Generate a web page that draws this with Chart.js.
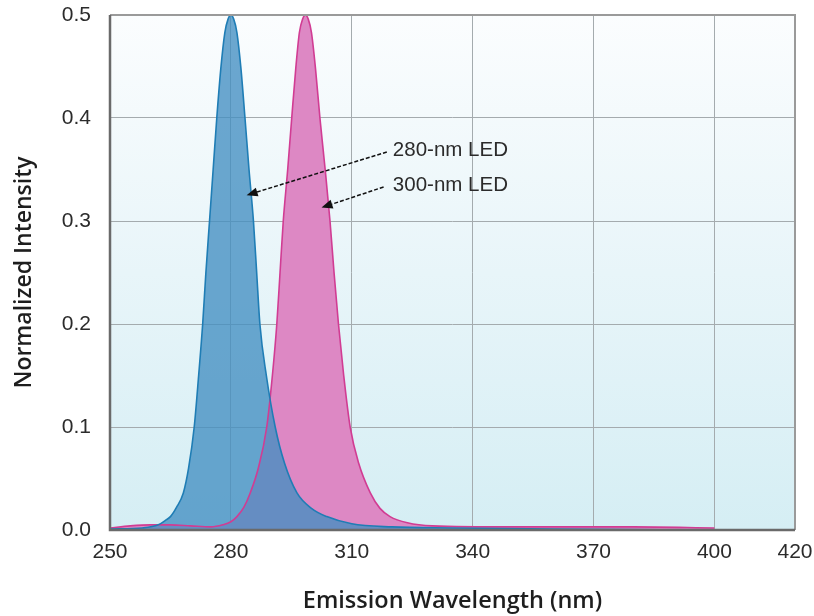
<!DOCTYPE html>
<html>
<head>
<meta charset="utf-8">
<script src="https://cdn.jsdelivr.net/npm/chart.js@4"></script>
<style>
  body { margin: 0; background: #fff; }
  #wrap { width: 814px; height: 616px; }
</style>
</head>
<body>
<div id="wrap"><canvas id="myChart" width="814" height="616"></canvas></div>
<script>
// emission spectra
var wl280 = [250,258,262,264,265,266.5,268.2,269.5,270.9,272,273,273.8,274.7,275.6,276.5,277.5,278.5,279.3,280,280.7,281.5,282.5,283.5,284.5,285.6,286.4,287.2,288.8,291,293.3,296.4,300,303.8,310,320,335,360,400];
var int280 = [0.001,0.002,0.005,0.01,0.013,0.022,0.036,0.06,0.1,0.15,0.2,0.25,0.3,0.35,0.4,0.448,0.483,0.496,0.5,0.496,0.483,0.448,0.4,0.35,0.3,0.25,0.2,0.15,0.1,0.065,0.036,0.021,0.013,0.006,0.003,0.002,0.001,0.0];

var wl300 = [250,255,260,265,270,275,278,280,281.5,283.2,284.8,286.8,288.9,290.3,291.4,292.2,293,294.1,295.1,296.1,297,297.8,298.5,299.2,300,301,302.1,303.4,304.6,305.6,306.7,308,309.6,311.7,314.6,317,319.5,323.8,330,350,380,400];
var int300 = [0.002,0.004,0.005,0.005,0.004,0.003,0.005,0.008,0.013,0.022,0.036,0.06,0.1,0.15,0.2,0.25,0.3,0.35,0.4,0.448,0.483,0.496,0.5,0.496,0.483,0.448,0.4,0.35,0.3,0.25,0.2,0.15,0.1,0.065,0.036,0.021,0.013,0.007,0.004,0.003,0.003,0.002];

var xTicks = [250,280,310,340,370,400,420];

// annotation labels + arrows (data coords)
var annoText = ['280-nm LED','300-nm LED'];
var annoTextPos = [[320.2,0.369],[320.2,0.335]];
var annoFrom = [[318.7,0.367],[317.9,0.333]];
var annoTo = [[283.9,0.325],[302.5,0.313]];

function pts(xs, ys){
    return xs.map(function(x, i){ return {x: x, y: ys[i]}; });
}

var bgPlugin = {
    id: 'bg',
    beforeDraw: function(chart){
        var a = chart.chartArea, c = chart.ctx;
        var g = c.createLinearGradient(0, a.top, 0, a.bottom);
        g.addColorStop(0, '#fbfdfe');
        g.addColorStop(0.5, '#e8f5f9');
        g.addColorStop(1, '#d5eef4');
        c.save();
        c.fillStyle = g;
        c.fillRect(a.left, a.top, a.right - a.left, a.bottom - a.top);
        c.restore();
    },
    afterDraw: function(chart){
        var a = chart.chartArea, c = chart.ctx;
        var xs = chart.scales.x, ys = chart.scales.y;
        c.save();
        // frame
        c.strokeStyle = '#9a9a9a';
        c.lineWidth = 2;
        c.beginPath();
        c.moveTo(a.left, a.top); c.lineTo(a.right, a.top); c.lineTo(a.right, a.bottom);
        c.stroke();
        c.strokeStyle = '#6a6a6a';
        c.lineWidth = 2.5;
        c.beginPath();
        c.moveTo(a.left, a.top); c.lineTo(a.left, a.bottom); c.lineTo(a.right, a.bottom);
        c.stroke();
        // arrows
        for (var i = 0; i < annoText.length; i++) {
            var x1 = xs.getPixelForValue(annoFrom[i][0]), y1 = ys.getPixelForValue(annoFrom[i][1]);
            var x2 = xs.getPixelForValue(annoTo[i][0]), y2 = ys.getPixelForValue(annoTo[i][1]);
            var ang = Math.atan2(y2 - y1, x2 - x1);
            var hl = 11, hw = 4.5;
            var bx = x2 - hl * Math.cos(ang), by = y2 - hl * Math.sin(ang);
            c.strokeStyle = '#111';
            c.lineWidth = 1.5;
            c.setLineDash([4, 2]);
            c.beginPath();
            c.moveTo(x1, y1); c.lineTo(bx, by);
            c.stroke();
            c.setLineDash([]);
            c.fillStyle = '#111';
            c.beginPath();
            c.moveTo(x2, y2);
            c.lineTo(bx + hw * Math.sin(ang), by - hw * Math.cos(ang));
            c.lineTo(bx - hw * Math.sin(ang), by + hw * Math.cos(ang));
            c.closePath();
            c.fill();
            c.font = '20.5px "Liberation Sans", Arial, sans-serif';
            c.fillStyle = '#2b2b2b';
            c.textAlign = 'left';
            c.textBaseline = 'middle';
            c.fillText(annoText[i], xs.getPixelForValue(annoTextPos[i][0]), ys.getPixelForValue(annoTextPos[i][1]));
        }
        c.restore();
    }
};

var config = {
    type: 'line',
    data: {
        datasets: [{
            label: '280-nm LED',
            data: pts(wl280, int280),
            borderColor: '#1f7db5',
            backgroundColor: 'rgba(66,142,194,0.78)',
            borderWidth: 1.6,
            fill: 'origin',
            pointRadius: 0,
            cubicInterpolationMode: 'monotone'
        }, {
            label: '300-nm LED',
            data: pts(wl300, int300),
            borderColor: '#d13c93',
            backgroundColor: '#dd88c4',
            borderWidth: 1.6,
            fill: 'origin',
            pointRadius: 0,
            cubicInterpolationMode: 'monotone'
        }]
    },
    options: {
        responsive: false,
        animation: false,
        layout: { padding: { top: 15, right: 19, bottom: 0, left: 0 } },
        plugins: {
            legend: { display: false },
            tooltip: { enabled: false },
            filler: { drawTime: 'beforeDatasetsDraw' }
        },
        scales: {
            x: {
                type: 'linear',
                min: 250,
                max: 420,
                afterBuildTicks: function(scale){
                    scale.ticks = xTicks.map(function(v){ return {value: v}; });
                },
                afterFit: function(scale){
                    scale.height = 86;
                    scale.paddingLeft = 0;
                    scale.paddingRight = 0;
                },
                grid: { color: '#a4abae', lineWidth: 1, drawTicks: false },
                border: { display: false },
                ticks: {
                    padding: 10,
                    color: '#2b2b2b',
                    maxRotation: 0,
                    autoSkip: false,
                    font: { family: '"Liberation Sans", Arial, sans-serif', size: 21 }
                },
                title: {
                    display: true,
                    text: 'Emission Wavelength (nm)',
                    color: '#1e1e1e',
                    font: { family: '"Open Sans", sans-serif', size: 23.5, weight: '600' },
                    padding: { top: 0, bottom: 1 }
                }
            },
            y: {
                min: 0,
                max: 0.5,
                afterFit: function(scale){
                    scale.width = 110;
                    scale.paddingTop = 0;
                    scale.paddingBottom = 0;
                },
                grid: { color: '#a4abae', lineWidth: 1, drawTicks: false },
                border: { display: false },
                ticks: {
                    stepSize: 0.1,
                    padding: 19,
                    color: '#2b2b2b',
                    font: { family: '"Liberation Sans", Arial, sans-serif', size: 21 },
                    callback: function(v){ return v.toFixed(1); }
                },
                title: {
                    display: true,
                    text: 'Normalized Intensity',
                    color: '#1e1e1e',
                    font: { family: '"Open Sans", sans-serif', size: 23, weight: '600' },
                    padding: { top: 11, bottom: 0 }
                }
            }
        }
    },
    plugins: [bgPlugin]
};

window.onload = function() {
    var ctx = document.getElementById('myChart').getContext('2d');
    window.myLine = new Chart(ctx, config);
};
</script>
</body>
</html>
